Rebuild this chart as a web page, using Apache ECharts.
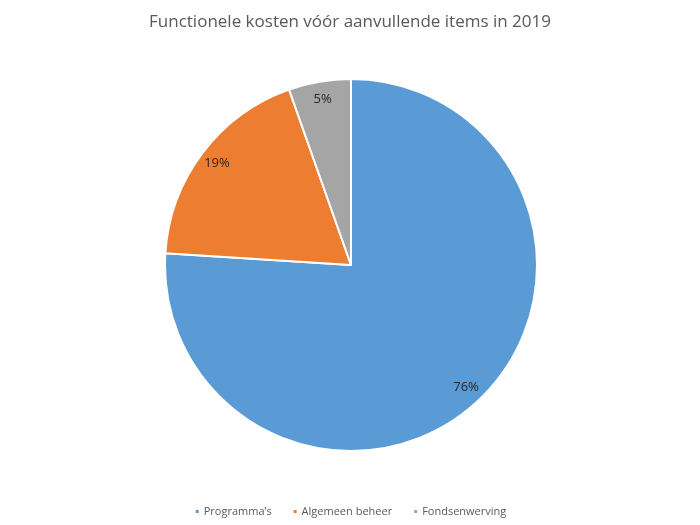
<!DOCTYPE html>
<html>
<head>
<meta charset="utf-8">
<script src="https://cdn.jsdelivr.net/npm/echarts@6/dist/echarts.min.js"></script>
<style>html,body{margin:0;padding:0;background:#fff}#c{width:700px;height:525px}</style>
</head>
<body>
<div id="c"></div>
<script>
const titleText = 'Functionele kosten vóór aanvullende items in 2019';
const categories = ['Programma\u2019s', 'Algemeen beheer', 'Fondsenwerving'];
const values = [76.0, 18.6, 5.4];
const colors = ['#5B9BD5', '#ED7D31', '#A5A5A5'];

const chart = echarts.init(document.getElementById('c'));
const dataMain = categories.map((n, i) => ({ name: n, value: values[i], itemStyle: { color: colors[i] } }));
const dataLabel = categories.map((n, i) => ({ name: n, value: values[i] }));
const fontFam = 'Open Sans, Noto Sans, sans-serif';
chart.setOption({
  animation: false,
  title: {
    text: titleText, left: 'center', top: 9,
    textStyle: { fontFamily: fontFam, fontSize: 17, fontWeight: 'normal', color: '#595959' }
  },
  legend: {
    data: categories, bottom: 3, left: 'center', itemWidth: 5, itemHeight: 5, itemGap: 20,
    icon: 'rect',
    textStyle: { fontFamily: fontFam, fontSize: 11, color: '#595959', padding: [0, 0, 0, -1] }
  },
  series: [
    {
      type: 'pie', center: [351, 265], radius: [0, 186], startAngle: 90, clockwise: true,
      data: dataMain,
      itemStyle: { borderColor: '#ffffff', borderWidth: 2 },
      label: { show: false }, labelLine: { show: false }
    },
    {
      type: 'pie', center: [351, 265], radius: [142, 188], startAngle: 90, clockwise: true,
      data: dataLabel, silent: true, legendHoverLink: false,
      itemStyle: { color: 'rgba(0,0,0,0)', borderWidth: 0 },
      label: { show: true, position: 'inside', formatter: p => Math.round(p.percent) + '%', fontFamily: fontFam, fontSize: 13, color: '#262626' },
      labelLine: { show: false }
    }
  ]
});
</script>
</body>
</html>
